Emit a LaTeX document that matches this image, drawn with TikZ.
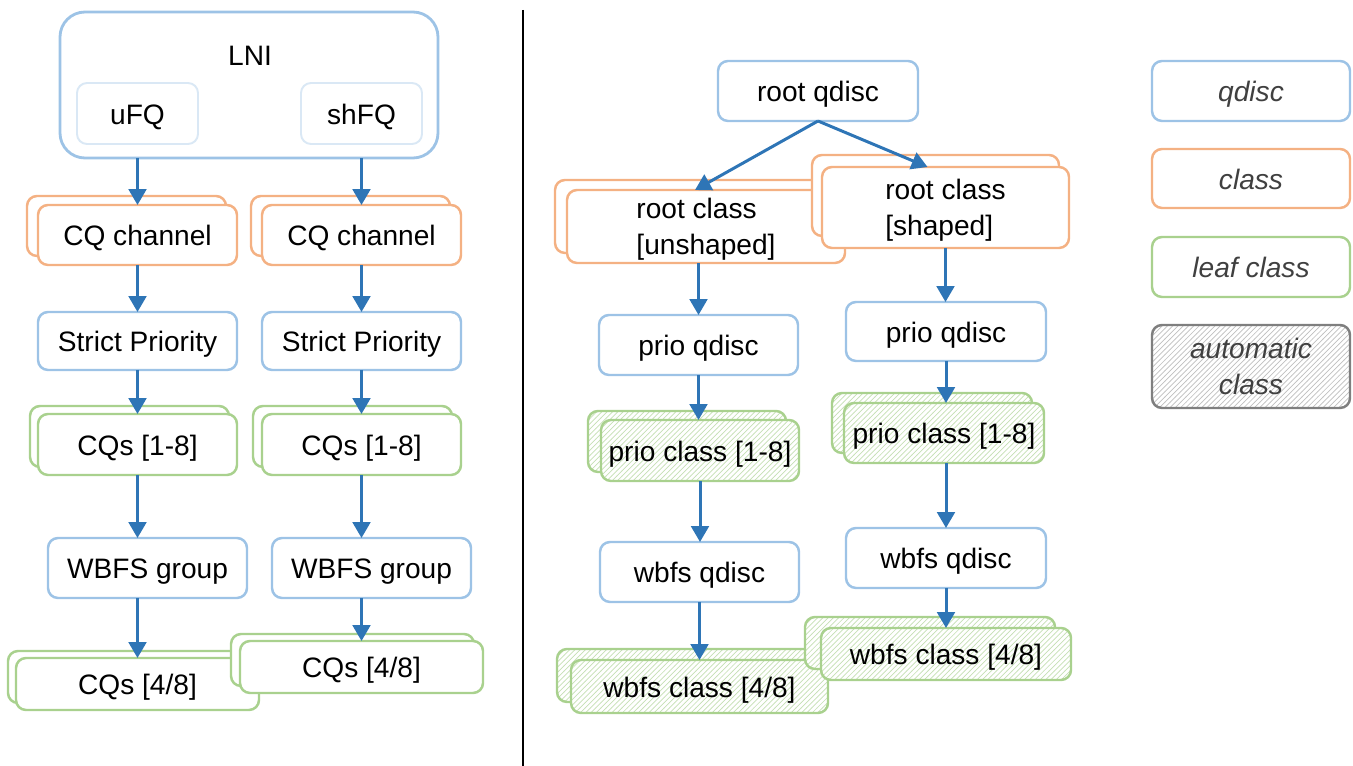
\documentclass[tikz,border=0pt]{standalone}
\usepackage{fontspec}
\setmainfont{Liberation Sans}
\usetikzlibrary{arrows.meta, patterns}
\definecolor{qd-blue}{HTML}{9DC3E6}
\definecolor{fq-blue}{HTML}{DAE8F5}
\definecolor{cl-orange}{HTML}{F4B183}
\definecolor{lf-green}{HTML}{A9D18E}
\definecolor{hatch-green}{HTML}{C5E0B4}
\definecolor{auto-gray}{HTML}{7F7F7F}
\definecolor{arrow-blue}{HTML}{2E75B6}
\definecolor{legend-text}{HTML}{404040}

\begin{document}
\begin{tikzpicture}[x=0.02cm, y=-0.02cm,
    every node/.style={font=\fontsize{16}{21}\selectfont, inner sep=0pt, outer sep=0pt,
      text height=12.4pt, text depth=0pt},
    twolines/.style={align=left, text height=32.4pt, text depth=0pt},
    wh/.style 2 args={minimum width=#1*0.02cm, minimum height=#2*0.02cm},
    box/.style={draw, line width=1.4pt, rounded corners=0.2cm, fill=white},
    qdbox/.style={box, draw=qd-blue},
    fqbox/.style={box, draw=fq-blue, line width=1.1pt},
    clbox/.style={box, draw=cl-orange},
    leafbox/.style={box, draw=lf-green},
    hatchbox/.style={leafbox, preaction={fill=white}, pattern=north east lines, pattern color=hatch-green},
    legtext/.style={text=legend-text, font=\fontsize{16}{21}\selectfont\itshape},
    link/.style={draw=arrow-blue, line width=1.7pt, -{Triangle[length=9pt, width=10pt]}}]
  \useasboundingbox (0,0) rectangle (1353,766);
  % LNI side
  \node[qdbox, rounded corners=0.5cm, line width=1.6pt, wh={378}{146}] (lni) at (249,85) {};
  \node (lnit) at (250,55) {LNI};
  \node[fqbox, wh={121}{61}] (ufq) at (137.5,113.5) {uFQ};
  \node[fqbox, wh={121}{61}] (shfq) at (361.5,113.5) {shFQ};
  \node[clbox, wh={199}{60}] (cqLb) at (126.5,226) {};
  \node[clbox, wh={199}{60}] (cqL) at (137.5,235) {CQ channel};
  \node[clbox, wh={199}{60}] (cqRb) at (350.5,226) {};
  \node[clbox, wh={199}{60}] (cqR) at (361.5,235) {CQ channel};
  \node[qdbox, wh={199}{58}] (spL) at (137.5,341) {Strict Priority};
  \node[qdbox, wh={199}{58}] (spR) at (361.5,341) {Strict Priority};
  \node[leafbox, wh={199}{61}] (cqsLb) at (129.5,436.5) {};
  \node[leafbox, wh={199}{61}] (cqsL) at (137.5,444.5) {CQs [1-8]};
  \node[leafbox, wh={199}{61}] (cqsRb) at (352.5,436.5) {};
  \node[leafbox, wh={199}{61}] (cqsR) at (361.5,444.5) {CQs [1-8]};
  \node[qdbox, wh={199}{60}] (wgL) at (147.5,568) {WBFS group};
  \node[qdbox, wh={199}{60}] (wgR) at (371.5,568) {WBFS group};
  \node[leafbox, wh={243}{52}] (cq48Lb) at (129.5,677) {};
  \node[leafbox, wh={243}{52}] (cq48L) at (137.5,684) {CQs [4/8]};
  \node[leafbox, wh={243}{52}] (cq48Rb) at (352.5,660) {};
  \node[leafbox, wh={243}{52}] (cq48R) at (361.5,667) {CQs [4/8]};
  \draw[link] (ufq |- lni.south) -- (cqL.north);
  \draw[link] (shfq |- lni.south) -- (cqR.north);
  \draw[link] (cqL.south) -- (spL.north);
  \draw[link] (cqR.south) -- (spR.north);
  \draw[link] (spL.south) -- (cqsL.north);
  \draw[link] (spR.south) -- (cqsR.north);
  \draw[link] (cqsL.south) -- (cqsL.south |- wgL.north);
  \draw[link] (cqsR.south) -- (cqsR.south |- wgR.north);
  \draw[link] (cq48L.north |- wgL.south) -- (cq48L.north);
  \draw[link] (cq48R.north |- wgR.south) -- (cq48R.north);

  \draw[line width=1.1pt] (523,10) -- (523,766);

  % qdisc side
  \node[qdbox, wh={200}{60}] (rootq) at (818,91) {root qdisc};
  \node[clbox, wh={278}{73}] (rcUb) at (694,216.5) {};
  \node[clbox, twolines, wh={278}{73}] (rcU) at (706,226.5) {root class\\{}[unshaped]};
  \node[clbox, wh={247}{81}] (rcSb) at (935.5,195.5) {};
  \node[clbox, twolines, wh={247}{81}] (rcS) at (945.5,207.5) {root class\\{}[shaped]};
  \node[qdbox, wh={199}{60}] (pqL) at (698.5,345) {prio qdisc};
  \node[qdbox, wh={200}{59}] (pqR) at (946,331.5) {prio qdisc};
  \node[hatchbox, wh={198}{61}] (pcLb) at (687,441.5) {};
  \node[hatchbox, wh={198}{61}] (pcL) at (700,450.5) {prio class [1-8]};
  \node[hatchbox, wh={200}{60}] (pcRb) at (932,423) {};
  \node[hatchbox, wh={200}{60}] (pcR) at (944,433) {prio class [1-8]};
  \node[qdbox, wh={199}{60}] (wqL) at (699.5,572) {wbfs qdisc};
  \node[qdbox, wh={200}{60}] (wqR) at (946,558) {wbfs qdisc};
  \node[hatchbox, wh={257}{53}] (wcLb) at (685.5,675.5) {};
  \node[hatchbox, wh={257}{53}] (wcL) at (699.5,686.5) {wbfs class [4/8]};
  \node[hatchbox, wh={250}{52}] (wcRb) at (930,643) {};
  \node[hatchbox, wh={250}{52}] (wcR) at (946,654) {wbfs class [4/8]};
  \draw[link] (rootq.south) -- ([xshift=-0.22cm]rcU.north);
  \draw[link] (rootq.south) -- ([xshift=-0.36cm]rcS.north);
  \draw[link] (pqL.north |- rcU.south) -- (pqL.north);
  \draw[link] (pqL.south) -- (pqL.south |- pcL.north);
  \draw[link] (pcL.south) -- (pcL.south |- wqL.north);
  \draw[link] (wqL.south) -- (wqL.south |- wcL.north);
  \draw[link] (rcS.south) -- (rcS.south |- pqR.north);
  \draw[link] (pqR.south) -- (pqR.south |- pcR.north);
  \draw[link] (pqR.south |- pcR.south) -- (wqR.north);
  \draw[link] (wqR.south) -- (wcR.north);

  % legend
  \node[qdbox, legtext, wh={198}{60}] (legq) at (1251,91) {qdisc};
  \node[clbox, legtext, wh={198}{59}] (legc) at (1251,178.5) {class};
  \node[leafbox, legtext, wh={198}{60}] (legl) at (1251,267) {leaf class};
  \node[hatchbox, draw=auto-gray, pattern color=auto-gray!50, legtext, twolines, align=center, wh={198}{83}] (lega) at (1251,366.5) {automatic\\class};
\end{tikzpicture}
\end{document}
